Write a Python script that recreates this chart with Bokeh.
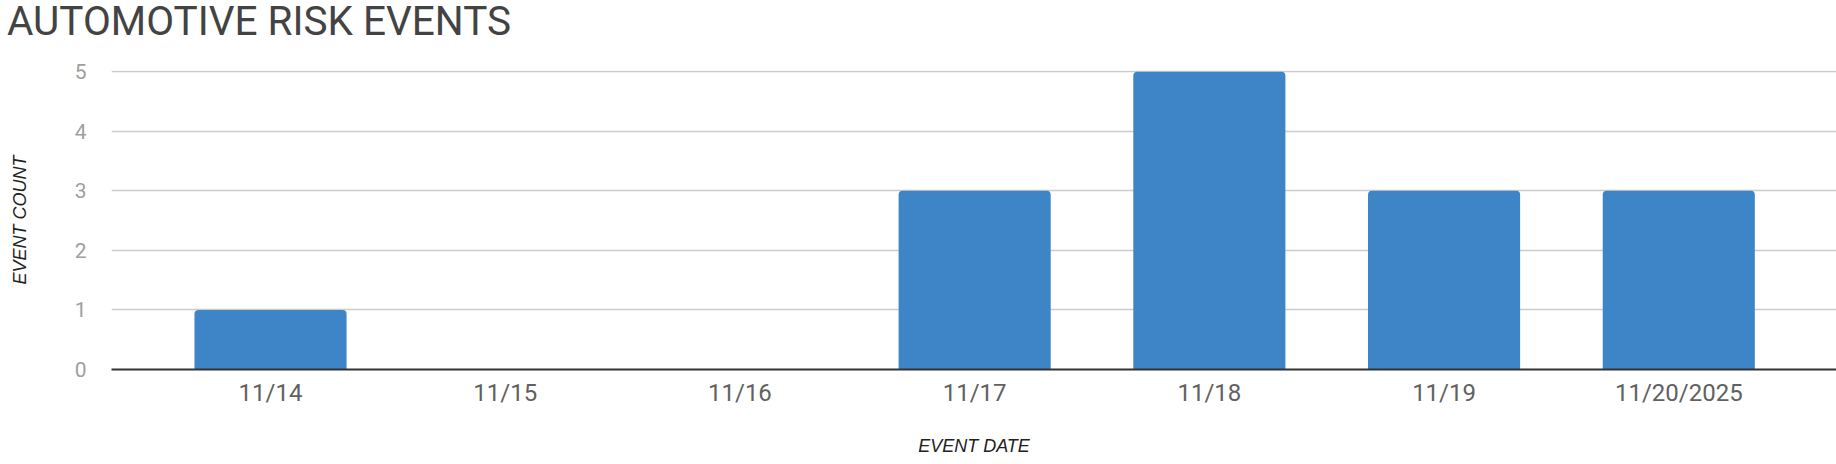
from bokeh.plotting import figure
from bokeh.models import Range1d, FixedTicker, ColumnDataSource, Div
from bokeh.layouts import column
from bokeh.embed import file_html
from bokeh.resources import INLINE

# Data
dates = ["11/14", "11/15", "11/16", "11/17", "11/18", "11/19", "11/20/2025"]
counts = [1, 0, 0, 3, 5, 3, 3]
y_ticks = [0, 1, 2, 3, 4, 5]

title_text = "AUTOMOTIVE RISK EVENTS"
x_title = "EVENT DATE"
y_title = "EVENT COUNT"

xs = list(range(len(dates)))
src = ColumnDataSource(dict(x=xs, top=counts))

TITLE_H = 42
heading = Div(text=('<div style="font-family: Roboto; font-size: 40.5px; line-height: 43px; '
                    'color: #434343; padding-left: 7px; white-space: nowrap; margin: 0;">'
                    + title_text + '</div>'),
              width=1836, height=TITLE_H, margin=(0, 0, 0, 0))

x0, x1 = -0.6775, 6.672
p = figure(width=1836, height=464 - TITLE_H, output_backend="svg", toolbar_location=None,
           x_range=Range1d(x0, x1), y_range=Range1d(0, 5.02),
           min_border_left=111, min_border_right=0, min_border_bottom=95, min_border_top=28)
p.title = None

p.vbar(x="x", top="top", width=0.648, source=src, fill_color="#3D85C6",
       line_color=None, border_radius=(4, 4, 0, 0))

p.outline_line_color = None
p.background_fill_color = "white"
p.border_fill_color = "white"

p.xgrid.grid_line_color = None
p.ygrid.grid_line_color = "#cccccc"
p.ygrid.grid_line_width = 1.5
p.ygrid.ticker = FixedTicker(ticks=y_ticks)

p.xaxis.ticker = FixedTicker(ticks=xs)
p.xaxis.major_label_overrides = {i: d for i, d in zip(xs, dates)}
p.xaxis.axis_line_color = "#333333"
p.xaxis.axis_line_width = 2
p.xaxis.major_tick_line_color = None
p.xaxis.major_tick_out = 0
p.xaxis.major_tick_in = 0
p.xaxis.minor_tick_line_color = None
p.xaxis.major_label_text_font = "Roboto"
p.xaxis.major_label_text_font_size = "24px"
p.xaxis.major_label_text_color = "#616161"
p.xaxis.major_label_standoff = 9
p.xaxis.axis_label = x_title
p.xaxis.axis_label_text_font = "Liberation Sans"
p.xaxis.axis_label_text_font_size = "18px"
p.xaxis.axis_label_text_font_style = "italic"
p.xaxis.axis_label_text_color = "#222222"
p.xaxis.axis_label_standoff = 26

p.yaxis.ticker = FixedTicker(ticks=y_ticks)
p.yaxis.axis_line_color = None
p.yaxis.major_tick_line_color = None
p.yaxis.major_tick_out = 0
p.yaxis.major_tick_in = 0
p.yaxis.minor_tick_line_color = None
p.yaxis.major_label_text_font = "Roboto"
p.yaxis.major_label_text_font_size = "21px"
p.yaxis.major_label_text_color = "#9e9e9e"
p.yaxis.major_label_standoff = 25
p.yaxis.axis_label = y_title
p.yaxis.axis_label_text_font = "Liberation Sans"
p.yaxis.axis_label_text_font_size = "18px"
p.yaxis.axis_label_text_font_style = "italic"
p.yaxis.axis_label_text_color = "#222222"
p.yaxis.axis_label_standoff = 42

layout = column(heading, p, spacing=0)
open("out.html", "w").write(file_html(layout, INLINE))
